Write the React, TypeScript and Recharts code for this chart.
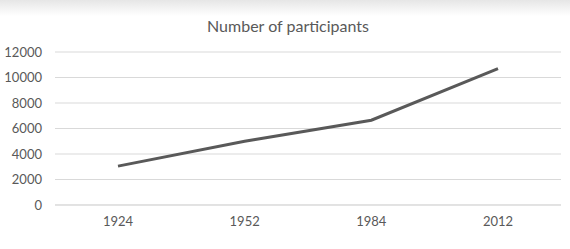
import React from 'react'
import { LineChart, Line, XAxis, YAxis, CartesianGrid } from 'recharts'

const years = ['1924', '1952', '1984', '2012']
const participants = [3050, 5000, 6650, 10700]
const yTicks = [0, 2000, 4000, 6000, 8000, 10000, 12000]

const data = years.map((year, i) => ({ year, participants: participants[i] }))

const font = 'Lato, "Open Sans", sans-serif'

export default function App() {
    return (
        <div style={{
            position: 'absolute', top: 0, left: 0, width: 570, height: 249,
            background: 'linear-gradient(#e6e6e6 0px, #ffffff 16px)', fontFamily: font
        }}>
            <div style={{
                position: 'absolute', top: 16, left: 0, width: 576, textAlign: 'center',
                fontSize: 16, color: '#595959', lineHeight: '20px'
            }}>
                Number of participants
            </div>
            <LineChart width={570} height={249} data={data} margin={{ top: 52, right: 9, bottom: 0, left: 0 }}>
                <CartesianGrid vertical={false} stroke='#d9d9d9' />
                <XAxis dataKey="year" height={44} padding={{ left: 63, right: 63 }}
                    axisLine={{ stroke: '#d9d9d9' }} tickLine={false} tickSize={0} tickMargin={12}
                    tick={{ fill: '#595959', fontSize: 13, fontFamily: font }} />
                <YAxis width={55} domain={[0, 12000]} ticks={yTicks} axisLine={false} tickLine={false}
                    tickSize={0} tickMargin={13} interval={0}
                    tick={{ fill: '#595959', fontSize: 13, fontFamily: font }} />
                <Line dataKey="participants" stroke='#595959' strokeWidth={3} dot={false}
                    isAnimationActive={false} />
            </LineChart>
        </div>
    )
}
